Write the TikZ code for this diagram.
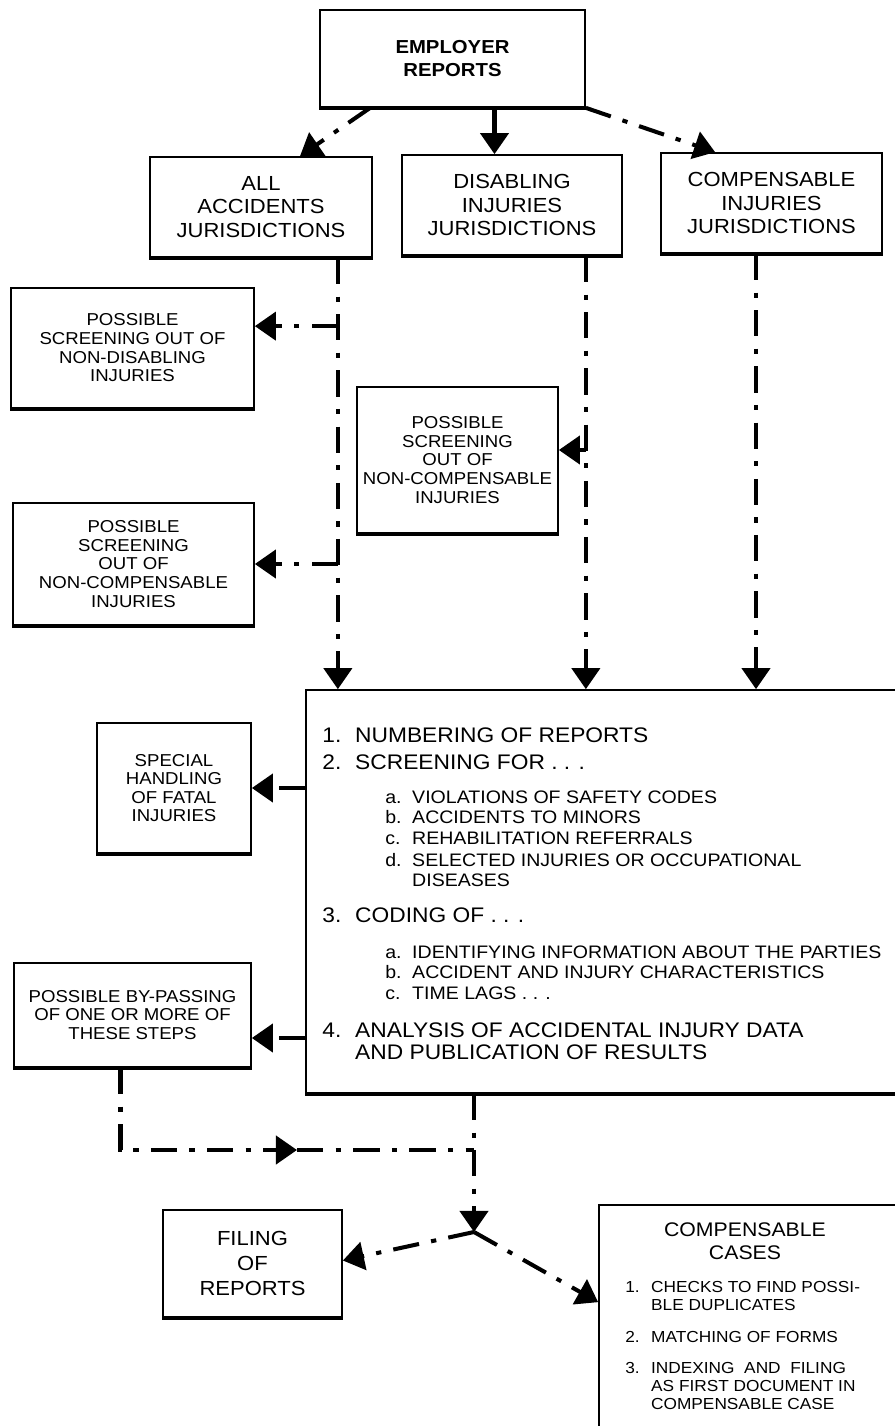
\documentclass[tikz,border=0pt]{standalone}
\usepackage{fontspec}
\setmainfont{Liberation Sans}[FakeStretch=1.08]
\usetikzlibrary{arrows.meta,calc}
\newcommand{\stepitem}[3]{\begin{tabular}[t]{@{}p{#1}@{}l@{}}#2&#3\end{tabular}}

\begin{document}
\begin{tikzpicture}[x=0.02cm,y=-0.02cm,>={Triangle[length=12pt,width=16pt]},
  box/.style={draw,line width=1pt,align=center,inner sep=0pt},
  jur/.style={box,font=\fontsize{11.6}{13.3}\selectfont},
  note/.style={box,font=\fontsize{9.8}{10.6}\selectfont},
  flow/.style={line width=2.3pt,dash pattern=on 15pt off 7pt on 3pt off 7pt},
  main/.style={anchor=base west,inner sep=0pt,font=\fontsize{12}{13}\selectfont},
  sub/.style={anchor=base west,inner sep=0pt,font=\fontsize{10.3}{11.6}\selectfont},
  case/.style={anchor=base west,inner sep=0pt,font=\fontsize{9.1}{10.4}\selectfont}]
\useasboundingbox (0,0) rectangle (895,1426);

\node (emp) [box,minimum width=5.3cm,minimum height=1.94cm,font=\bfseries\fontsize{10.7}{13}\selectfont] at (452.5,58.5) {EMPLOYER\\REPORTS};
\node (all)  [jur,minimum width=4.44cm,minimum height=2cm] at (261,207) {ALL\\ACCIDENTS\\JURISDICTIONS};
\node (dis)  [jur,minimum width=4.4cm,minimum height=2cm] at (512,205) {DISABLING\\INJURIES\\JURISDICTIONS};
\node (comp) [jur,minimum width=4.42cm,minimum height=2cm] at (771.5,203) {COMPENSABLE\\INJURIES\\JURISDICTIONS};

\node (scr1) [note,minimum width=4.86cm,minimum height=2.4cm] at (132.5,348) {POSSIBLE\\SCREENING OUT OF\\NON-DISABLING\\INJURIES};
\node (scr3) [note,minimum width=4.02cm,minimum height=2.92cm] at (457.5,460) {POSSIBLE\\SCREENING\\OUT OF\\NON-COMPENSABLE\\INJURIES};
\node (scr2) [note,minimum width=4.82cm,minimum height=2.44cm] at (133.5,564) {POSSIBLE\\SCREENING\\OUT OF\\NON-COMPENSABLE\\INJURIES};
\node (fatal)  [note,minimum width=3.08cm,minimum height=2.6cm] at (174,788) {SPECIAL\\HANDLING\\OF FATAL\\INJURIES};
\node (bypass) [note,minimum width=4.74cm,minimum height=2.08cm] at (132.5,1015) {POSSIBLE BY-PASSING\\OF ONE OR MORE OF\\THESE STEPS};

\node (steps) [box,minimum width=12.08cm,minimum height=8.06cm] at (608,891.5) {};
\node (i1) [main] at (322,742) {\stepitem{18.7pt}{1.}{NUMBERING OF REPORTS}};
\node (i2) [main] at (322,769) {\stepitem{18.7pt}{2.}{SCREENING FOR . . .}};
\node (a1) [sub] at (385,803) {\stepitem{15.3pt}{a.}{VIOLATIONS OF SAFETY CODES}};
\node (b1) [sub] at (385,823) {\stepitem{15.3pt}{b.}{ACCIDENTS TO MINORS}};
\node (c1) [sub] at (385,844) {\stepitem{15.3pt}{c.}{REHABILITATION REFERRALS}};
\node (d1) [sub] at (385,866) {\stepitem{15.3pt}{d.}{SELECTED INJURIES OR OCCUPATIONAL\\ & DISEASES}};
\node (i3) [main] at (322,922) {\stepitem{18.7pt}{3.}{CODING OF . . .}};
\node (a2) [sub] at (385,958) {\stepitem{15.3pt}{a.}{IDENTIFYING INFORMATION ABOUT THE PARTIES}};
\node (b2) [sub] at (385,978) {\stepitem{15.3pt}{b.}{ACCIDENT AND INJURY CHARACTERISTICS}};
\node (c2) [sub] at (385,999) {\stepitem{15.3pt}{c.}{TIME LAGS . . .}};
\node (i4) [main] at (322,1037) {\stepitem{18.7pt}{4.}{ANALYSIS OF ACCIDENTAL INJURY DATA\\ & AND PUBLICATION OF RESULTS}};

\node (filing) [box,minimum width=3.58cm,minimum height=2.14cm,font=\fontsize{11.6}{14}\selectfont] at (252.5,1263.5) {FILING\\OF\\REPORTS};
\node (cases) [box,minimum width=6.22cm,minimum height=4.7cm] at (754.5,1322.5) {};
\node (ctitle) [inner sep=0pt,align=center,font=\fontsize{11.2}{13}\selectfont] at (745,1241.5) {COMPENSABLE\\CASES};
\node (k1) [case] at (625,1292) {\stepitem{14.7pt}{1.}{CHECKS TO FIND POSSI-\\ & BLE DUPLICATES}};
\node (k2) [case] at (625,1342) {\stepitem{14.7pt}{2.}{MATCHING OF FORMS}};
\node (k3) [case] at (625,1373) {\stepitem{14.7pt}{3.}{INDEXING\ \ AND\ \ FILING\\ & AS FIRST DOCUMENT IN\\ & COMPENSABLE CASE}};

% heavy lower edges
\foreach \b in {emp,all,dis,comp,scr1,scr3,scr2,fatal,bypass,steps,filing}
  \draw[line width=2.6pt] (\b.south west) -- (\b.south east);

% top split
\draw[flow,->] ($(emp.south west)+(51,0)$) -- ($(all.north)+(39,0)$);
\draw[flow,->] ($(emp.south)+(42,0)$) coordinate (em) -- (em |- dis.north);
\draw[flow,->] (emp.south east) -- ($(comp.north west)+(55,0)$);

% jurisdiction lines
\path ($(all.south east)+(-35,0)$) coordinate (la)
      ($(dis.south east)+(-37,0)$) coordinate (lb)
      ($(comp.south)+(-15.5,0)$) coordinate (lc);
\draw[flow,->] (la) -- (la |- steps.north);
\draw[flow,->] (lb) -- (lb |- steps.north);
\draw[flow,->] (lc) -- (lc |- steps.north);

\path ($(scr1.north east)+(0,39)$) coordinate (s1in)
      ($(scr3.east)+(0,-10)$) coordinate (s3in)
      ($(bypass.east)+(0,23)$) coordinate (bpin);
\draw[flow,->] (la |- s1in) -- (s1in);
\draw[flow,->] (la |- scr2.east) -- (scr2.east);
\draw[flow,->] (lb |- s3in) -- (s3in);
\draw[flow,->] (steps.west |- fatal.east) -- (fatal.east);
\draw[flow,->] (steps.west |- bpin) -- (bpin);

% bottom
\coordinate (split) at (474,1232);
\coordinate (mid) at (297,1150);
\draw[flow,->] ($(bypass.south)+(-12,0)$) |- (mid);
\draw[flow] (mid) -- (mid -| split);
\draw[flow,->] (steps.south -| split) -- (split);
\draw[flow,->] (split) -- ($(filing.east)+(0,-3)$);
\draw[flow,->] (split) -- ($(cases.north west)+(0,98)$);
\end{tikzpicture}
\end{document}
